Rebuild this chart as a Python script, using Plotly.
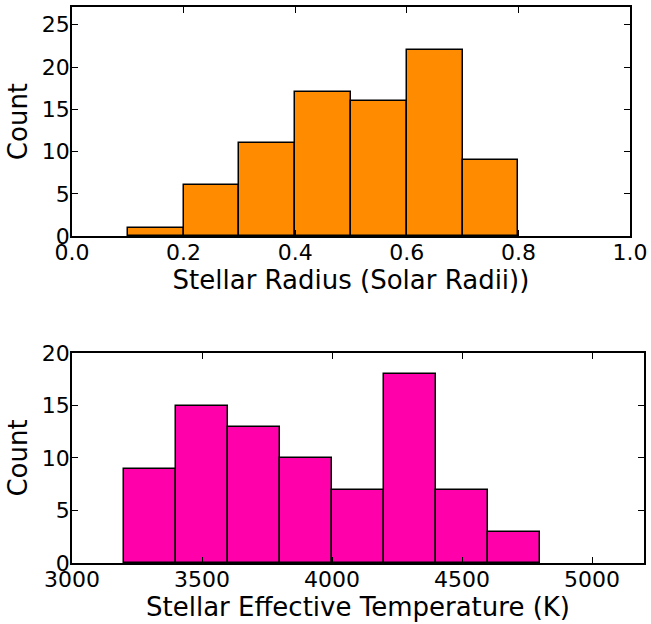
import plotly.graph_objects as go

# Data
radius_edges = [0.1, 0.2, 0.3, 0.4, 0.5, 0.6, 0.7, 0.8]
radius_counts = [1, 6, 11, 17, 16, 22, 9]
temp_edges = [3200, 3400, 3600, 3800, 4000, 4200, 4400, 4600, 4800]
temp_counts = [9, 15, 13, 10, 7, 18, 7, 3]

def centers(edges):
    return [(a + b) / 2 for a, b in zip(edges[:-1], edges[1:])]

def widths(edges):
    return [b - a for a, b in zip(edges[:-1], edges[1:])]

fig = go.Figure()
fig.add_trace(go.Bar(x=centers(radius_edges), y=radius_counts, width=widths(radius_edges),
                     marker=dict(color="#FF8C00", line=dict(color="black", width=1.5)),
                     xaxis="x", yaxis="y", showlegend=False))
fig.add_trace(go.Bar(x=centers(temp_edges), y=temp_counts, width=widths(temp_edges),
                     marker=dict(color="#FF00AA", line=dict(color="black", width=1.5)),
                     xaxis="x2", yaxis="y2", showlegend=False))

tickfont = dict(family="DejaVu Sans", size=22, color="black")
titlefont = dict(family="DejaVu Sans", size=26, color="black")
axcommon = dict(showline=True, linecolor="black", linewidth=1.5, mirror="ticks",
                ticks="inside", ticklen=6, tickcolor="black", tickwidth=1,
                showgrid=False, zeroline=False, tickfont=tickfont, automargin=False)

fig.update_layout(
    width=651, height=624,
    margin=dict(l=72, r=7, t=7, b=61),
    plot_bgcolor="white", paper_bgcolor="white",
    font=tickfont, bargap=0,
    xaxis=dict(domain=[0, 0.9755], range=[0, 1.0], tickvals=[0, 0.2, 0.4, 0.6, 0.8, 1.0],
               ticktext=["0.0", "0.2", "0.4", "0.6", "0.8", "1.0"], anchor="y",
               ticklabelstandoff=-4,
               title=dict(text="Stellar Radius (Solar Radii))", font=titlefont, standoff=3),
               **axcommon),
    yaxis=dict(domain=[0.588, 1.0], range=[0, 27.1], tickvals=[0, 5, 10, 15, 20, 25], anchor="x",
               ticklabelstandoff=-4,
               title=dict(text="Count", font=titlefont, standoff=7),
               **axcommon),
    xaxis2=dict(domain=[0, 1.0], range=[3000, 5200], tickvals=[3000, 3500, 4000, 4500, 5000], anchor="y2",
                ticklabelstandoff=-4,
                title=dict(text="Stellar Effective Temperature (K)", font=titlefont, standoff=0),
                **axcommon),
    yaxis2=dict(domain=[0, 0.3777], range=[0, 20], tickvals=[0, 5, 10, 15, 20], anchor="x2",
                ticklabelstandoff=-4,
                title=dict(text="Count", font=titlefont, standoff=7),
                **axcommon),
)

fig.write_html("out.html", config={"displayModeBar": False},
               post_script="document.body.style.margin='0';document.body.style.overflow='hidden';")
